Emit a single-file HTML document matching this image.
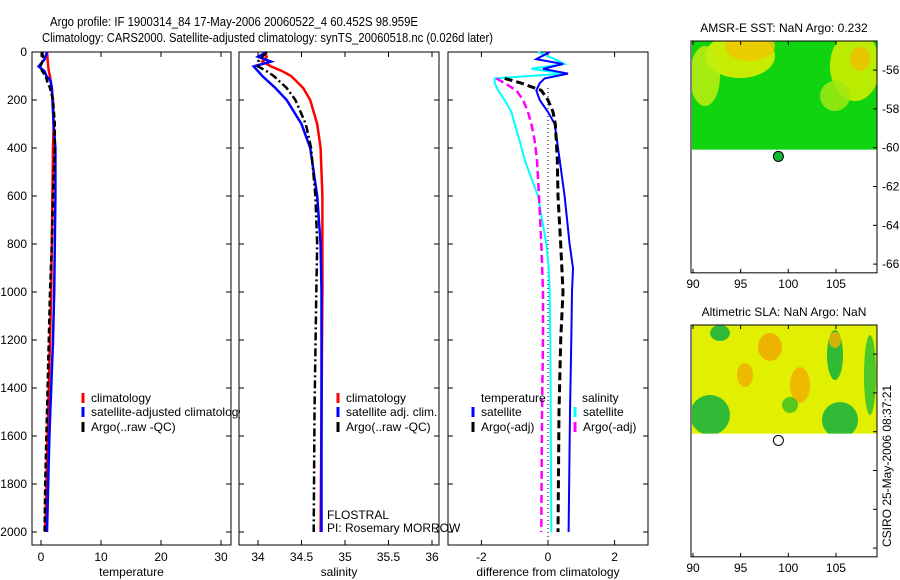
<!DOCTYPE html>
<html><head><meta charset="utf-8"><style>
body{margin:0;background:#fff}
svg{display:block;font-family:"Liberation Sans",sans-serif}
</style></head><body>
<svg id="c" width="900" height="580" viewBox="0 0 900 580">
<text x="50" y="26" font-size="13" textLength="368" lengthAdjust="spacingAndGlyphs">Argo profile: IF 1900314_84 17-May-2006 20060522_4 60.452S 98.959E</text>
<text x="42" y="42" font-size="13" textLength="451" lengthAdjust="spacingAndGlyphs">Climatology: CARS2000. Satellite-adjusted climatology: synTS_20060518.nc (0.026d later)</text>
<defs><clipPath id="legclip"><rect x="0" y="380" width="240" height="60"/></clipPath></defs>
<g id="g"></g>
</svg>
<script>
// ---- data ----
const tDep=[0,30,60,80,100,120,150,200,300,400,600,800,1000,1200,1400,1600,1800,2000];
const tClim=[1.0,1.1,1.2,1.3,1.5,1.6,1.8,2.0,2.1,2.0,1.9,1.8,1.7,1.5,1.3,1.1,0.9,0.7];
const tSat=[1.0,0.6,-0.4,0.6,0.9,1.6,1.8,1.9,2.1,2.4,2.4,2.3,2.2,2.0,1.7,1.4,1.2,1.0];
const tArgo=[0.2,0.4,-0.1,0.2,0.8,1.0,1.5,2.0,2.3,2.3,2.0,1.8,1.5,1.3,1.1,0.9,0.7,0.6];
const sDep=[0,20,40,60,80,100,150,200,300,400,600,800,1000,1500,2000];
const sClim=[34.08,34.1,34.05,34.15,34.28,34.38,34.52,34.6,34.68,34.72,34.74,34.74,34.74,34.73,34.72];
const sSat=[34.1,34.0,34.15,33.95,34.0,34.05,34.2,34.33,34.5,34.6,34.68,34.72,34.73,34.73,34.73];
const sArgo=[34.1,34.05,34.0,34.0,34.1,34.18,34.33,34.43,34.55,34.61,34.66,34.68,34.67,34.65,34.64];
const dDep=[0,30,50,70,90,110,130,160,200,250,300,370,450,600,800,900,1000,1200,1500,2000];
const dTSat=[0.05,-0.35,0.45,-0.15,0.6,-0.1,-0.25,-0.35,-0.25,0.0,0.2,0.27,0.35,0.5,0.65,0.75,0.72,0.7,0.66,0.62];
const dSSat=[-0.3,0.2,0.5,-0.5,0.5,-1.6,-1.6,-1.5,-1.3,-1.1,-1.0,-0.85,-0.7,-0.3,-0.05,0.02,0.05,0.07,0.08,0.1];
const aDep=[110,130,160,200,250,300,370,450,600,800,1000,1200,1500,2000];
const dTArgo=[-1.55,-1.3,-0.95,-0.75,-0.6,-0.5,-0.4,-0.33,-0.27,-0.2,-0.15,-0.15,-0.18,-0.2];
const dSArgo=[-1.3,-0.8,-0.2,0.0,0.15,0.22,0.25,0.28,0.3,0.38,0.45,0.38,0.33,0.3];
const depthTicks=[0,200,400,600,800,1000,1200,1400,1600,1800,2000];
const tTicks=[0,10,20,30];
const sTicks=[34,34.5,35,35.5,36];
const dTicks=[-2,0,2];
const latTicks=[-56,-58,-60,-62,-64,-66];
const lonTicks=[90,95,100,105];

const NS='http://www.w3.org/2000/svg';
const G=document.getElementById('g');
function el(tag,attrs,parent){const e=document.createElementNS(NS,tag);for(const k in attrs)e.setAttribute(k,attrs[k]);(parent||G).appendChild(e);return e;}
function txt(x,y,s,size,anchor,parent){const t=el('text',{x:x,y:y,'font-size':size||12,'text-anchor':anchor||'start'},parent);t.textContent=s;return t;}
const yD=d=>52+d*0.24;
const TOP=52,BOT=545;

function frame(x0,x1,name,xs,ticks,xlabel,labels){
  const r=el('rect',{x:x0,y:TOP,width:x1-x0,height:BOT-TOP,fill:'none',stroke:'#000'});
  
  
  ticks.forEach(v=>{const x=xs(v);el('line',{x1:x,x2:x,y1:BOT,y2:BOT-5,stroke:'#000'});el('line',{x1:x,x2:x,y1:TOP,y2:TOP+5,stroke:'#000'});
    const t=txt(x,561,String(v),12,'middle');});
  depthTicks.forEach(d=>{const y=yD(d);el('line',{x1:x0,x2:x0+5,y1:y,y2:y,stroke:'#000'});el('line',{x1:x1,x2:x1-5,y1:y,y2:y,stroke:'#000'});
    if(labels){const t=txt(x0-5,y+4,String(d),12,'end');}});
  const t=txt((x0+x1)/2,576,xlabel,12,'middle');
}
function line(xs,deps,vals,color,w,dash,name){
  const pts=deps.map((d,i)=>xs(vals[i]).toFixed(1)+','+yD(d).toFixed(1)).join(' ');
  const p=el('polyline',{points:pts,fill:'none',stroke:color,'stroke-width':w});
  if(dash)p.setAttribute('stroke-dasharray',dash);
  
  
}
function legend(x,y,color,label,parent){
  const l=el('line',{x1:x,x2:x,y1:y-9,y2:y+1,stroke:color,'stroke-width':3},parent);
  
  
  if(label){const t=txt(x+8,y,label,12,'start',parent);}
}

// panel 1 temperature
const xT=v=>41+v*6;
frame(32,231,'temperature',xT,tTicks,'temperature',true);
line(xT,tDep,tClim,'#f00',2.5,null,'temperature-climatology-line');
line(xT,tDep,tSat,'#00f',2.5,null,'temperature-satellite-line');
line(xT,tDep,tArgo,'#000',2.5,'6,3','temperature-argo-line');
const lg1=el('g',{'clip-path':'url(#legclip)'});
legend(83,402,'#f00','climatology',lg1);legend(83,416,'#00f','satellite-adjusted climatology',lg1);legend(83,431,'#000','Argo(..raw -QC)',lg1);

// panel 2 salinity
const xS=v=>258+(v-34)*87;
frame(239,439,'salinity',xS,sTicks,'salinity',false);
line(xS,sDep,sClim,'#f00',2.5,null,'salinity-climatology-line');
line(xS,sDep,sSat,'#00f',2.5,null,'salinity-satellite-line');
line(xS,sDep,sArgo,'#000',2.5,'8,3,2,3','salinity-argo-line');
legend(338,402,'#f00','climatology');legend(338,416,'#00f','satellite adj. clim.');legend(338,431,'#000','Argo(..raw -QC)');
let t=txt(327,519,'FLOSTRAL',12);
t=txt(327,532,'PI: Rosemary MORROW',12);

// panel 3 differences
const xDf=v=>548+v*33.3;
frame(448,648,'difference',xDf,dTicks,'difference from climatology',false);
el('line',{x1:xDf(0),x2:xDf(0),y1:yD(150),y2:BOT,stroke:'#000','stroke-dasharray':'1,3'});
line(xDf,dDep,dSSat,'#0ff',2,null,'salinity-satellite-diff-line');
line(xDf,dDep,dTSat,'#00f',2,null,'temperature-satellite-diff-line');
line(xDf,aDep,dTArgo,'#f0f',2.5,'8,4','temperature-argo-diff-line');
line(xDf,aDep,dSArgo,'#000',3,'8,4','salinity-argo-diff-line');
t=txt(481,402,'temperature',12);
t=txt(582,402,'salinity',12);
legend(473,416,'#00f','satellite');legend(473,431,'#000','Argo(-adj)');
legend(575,416,'#0ff','satellite');legend(575,431,'#f0f','Argo(-adj)');

// maps
function map(top,name,title,base,blobs,marker,latLabels){
  const yL=l=>top+(-54.5-l)*19.4, xL=g=>693+(g-90)*9.53;
  const bot=yL(-66.45);
  const tt=txt(784,top-9,title,12,'middle');
  const img=el('g',{});
  const cp=el('clipPath',{id:name+'c'});el('rect',{x:692,y:top,width:185,height:yL(-60.1)-top},cp);
  const gg=el('g',{'clip-path':'url(#'+name+'c)'},img);
  el('rect',{x:692,y:top,width:185,height:120,fill:base},gg);
  blobs.forEach(b=>el('ellipse',{cx:b[0],cy:top+b[1],rx:b[2],ry:b[3],fill:b[4],opacity:0.85},gg));
  const f=el('rect',{x:691,y:top,width:186,height:bot-top,fill:'none',stroke:'#000'});
  
  latTicks.forEach(l=>{const y=yL(l);el('line',{x1:877,x2:873,y1:y,y2:y,stroke:'#000'});
    if(latLabels){const a=txt(882,y+4,String(l),12);}});
  lonTicks.forEach(g=>{const x=xL(g);el('line',{x1:x,x2:x,y1:bot,y2:bot-4,stroke:'#000'});el('line',{x1:x,x2:x,y1:top,y2:top+4,stroke:'#000'});
    const a=txt(x,bot+15,String(g),12,'middle');});
  const m=el('circle',{cx:xL(98.96),cy:yL(-60.45),r:5,fill:marker,stroke:'#000'});
  
}
map(41,'sst-map','AMSR-E SST: NaN Argo: 0.232','#11d411',[[740,15,35,22,'#e8f000'],[750,5,25,15,'#f0c800'],[705,35,15,30,'#c0ee10'],[855,25,25,35,'#d8f000'],[860,18,10,12,'#f0c000'],[835,55,15,15,'#a0e810']],'#11bb33',true);
map(325,'sla-map','Altimetric SLA: NaN Argo: NaN','#e0f000',[[710,90,20,20,'#10b040'],[720,8,10,8,'#10b040'],[835,30,8,25,'#10b040'],[840,95,18,18,'#10b040'],[770,22,12,14,'#f0a800'],[800,60,10,18,'#f0b000'],[745,50,8,12,'#f0b000'],[835,15,6,8,'#f0b000'],[870,50,6,40,'#30c030'],[790,80,8,8,'#40c020']],'#fff',false);
t=el('text',{x:0,y:0,'font-size':12,transform:'translate(891,547) rotate(-90)'});t.textContent='CSIRO 25-May-2006 08:37:21';

</script>
</body></html>
